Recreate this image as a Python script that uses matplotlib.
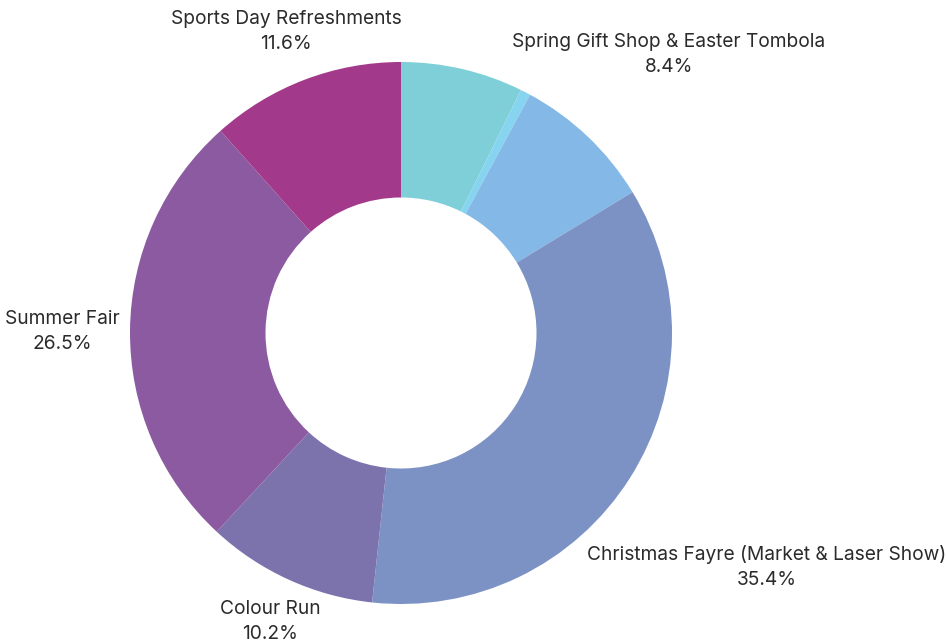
import matplotlib
matplotlib.use("Agg")
import matplotlib.pyplot as plt

# Data (clockwise from 12 o'clock)
categories = ["", "", "Spring Gift Shop & Easter Tombola",
              "Christmas Fayre (Market & Laser Show)", "Colour Run",
              "Summer Fair", "Sports Day Refreshments"]
values = [7.3, 0.6, 8.4, 35.4, 10.2, 26.5, 11.6]
colors = ["#7ECFD8", "#86D4F0", "#84B8E6", "#7D92C4", "#7C72AC", "#8C5AA0", "#A3398A"]

# label positions (in units of pie radius, relative to centre)
label_pos = [None, None, (0.989, 1.026), (1.351, -0.863), (-0.483, -1.066),
             (-1.251, 0.007), (-0.424, 1.111)]

W, H = 947, 641
fig = plt.figure(figsize=(W / 100, H / 100), dpi=100)
ax = fig.add_axes([0, 0, 1, 1])
cx, cy, R = 401, 333, 271
ax.axis("off")

ax.pie(values, colors=colors, startangle=90, counterclock=False, radius=1.0,
       wedgeprops=dict(width=0.5, linewidth=0), center=(0, 0), frame=False)
ax.set_xlim(-cx / R, (W - cx) / R)
ax.set_ylim(-(H - cy) / R, cy / R)
ax.set_aspect("auto")

for cat, v, pos in zip(categories, values, label_pos):
    if pos is None:
        continue
    ax.text(pos[0], pos[1], f"{cat}\n{v:.1f}%", ha="center", va="center",
            fontsize=13.8, family=["Inter", "DejaVu Sans"], color="#2b2b2b",
            linespacing=1.5)

fig.savefig("out.png", dpi=100)
